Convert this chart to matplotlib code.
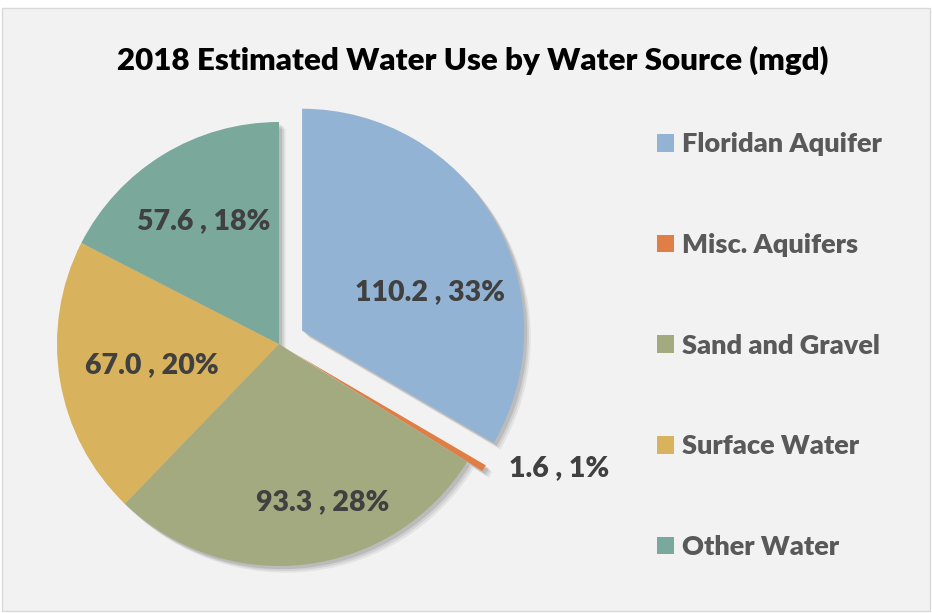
import numpy as np
import matplotlib
matplotlib.use('Agg')
import matplotlib.pyplot as plt
from matplotlib.patches import Rectangle

plt.rcParams['font.family'] = ['Lato', 'DejaVu Sans']

sources = ['Floridan Aquifer', 'Misc. Aquifers', 'Sand and Gravel', 'Surface Water', 'Other Water']
mgd = [110.2, 1.6, 93.3, 67.0, 57.6]
pct_labels = ['33%', '1%', '28%', '20%', '18%']
colors = ['#93B3D4', '#E07F45', '#A3AA80', '#D8B25C', '#7AA89B']
explode = [0.12, 0.08, 0, 0, 0]
# label placement: distance from wedge centre (radii) and angle tweak (deg)
label_dist = [0.6, 1.1, 0.74, 0.58, 0.65]
label_turn = [-13, 3, 8.6, 0, 0]

W, H = 932, 613
R = 222.0            # pie radius in px
cx, cy = 279, 344    # pie centre in px from top-left

fig = plt.figure(figsize=(W / 100, H / 100), dpi=100, facecolor='white')
fig.patches.append(Rectangle((2 / W, 2 / H), (W - 4) / W, (H - 10) / H,
                             transform=fig.transFigure, facecolor='#F2F2F2',
                             edgecolor='#D9D9D9', linewidth=1, zorder=-10))

ax = fig.add_axes([0, 0, 1, 1])
ax.set_facecolor('none')

# soft shadow under the pie
for k, a in [(0.030, 0.06), (0.022, 0.08), (0.014, 0.10)]:
    ax.pie(mgd, explode=explode, startangle=90, counterclock=False,
           colors=['#000000'] * len(mgd), center=(k, -k),
           wedgeprops=dict(linewidth=0, alpha=a), radius=1)

wedges, _ = ax.pie(mgd, explode=explode, startangle=90, counterclock=False,
                   colors=colors, wedgeprops=dict(linewidth=0), radius=1)

x0 = -cx / R
y0 = -(H - cy) / R
ax.set_xlim(x0, x0 + W / R)
ax.set_ylim(y0, y0 + H / R)
ax.set_aspect('equal')
ax.axis('off')

for i, (w, v, p) in enumerate(zip(wedges, mgd, pct_labels)):
    mid = np.deg2rad((w.theta1 + w.theta2) / 2 + label_turn[i])
    ox, oy = w.center
    d = label_dist[i]
    outside = d > 1
    ax.text(ox + d * np.cos(mid), oy + d * np.sin(mid), f'{v:.1f} , {p}',
            ha='left' if outside else 'center', va='center', fontsize=20.5,
            fontweight='heavy', color='#404040')

fig.text(473 / W, 1 - 60 / H, '2018 Estimated Water Use by Water Source (mgd)',
         ha='center', va='center', fontsize=22.5, fontweight='heavy', color='black')

leg = ax.legend(wedges, sources, loc='upper left',
                bbox_to_anchor=(633 / W, 1 - 108 / H), bbox_transform=fig.transFigure,
                frameon=False, labelspacing=2.83,
                prop=dict(size=19.5, weight='heavy'),
                handlelength=0.62, handleheight=0.62, handletextpad=0.3)
for t in leg.get_texts():
    t.set_color('#595959')

fig.savefig('out.png', dpi=100, facecolor='white')
